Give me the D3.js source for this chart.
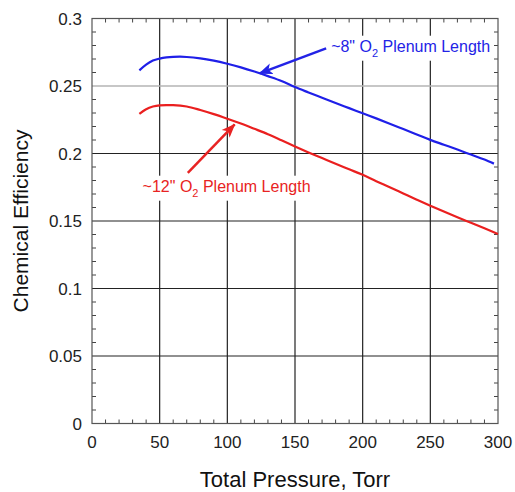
<!DOCTYPE html>
<html>
<head>
<meta charset="utf-8">
<script src="https://cdn.jsdelivr.net/npm/d3@7"></script>
<style>
  body { margin: 0; background: #fff; }
  svg { display: block; font-family: "Liberation Sans", Arial, sans-serif; }
</style>
</head>
<body>
<div id="chart"></div>
<script>
// values
var xTicks = [0, 50, 100, 150, 200, 250, 300];
var yTicks = [0, 0.05, 0.1, 0.15, 0.2, 0.25, 0.3];

var blueP = [35, 40, 45, 50, 55, 60, 65, 70, 80, 90, 100, 110, 120, 130, 140, 150,
  160, 170, 180, 190, 200, 210, 220, 230, 240, 250, 260, 270, 280, 290, 297];
var blueEff = [0.2616, 0.2658, 0.2688, 0.2703, 0.2712, 0.2716, 0.2717, 0.2715, 0.2705,
  0.2688, 0.2665, 0.2638, 0.2607, 0.2573, 0.2537, 0.2492, 0.2452, 0.2413, 0.2374,
  0.2336, 0.2298, 0.2260, 0.2221, 0.2181, 0.2141, 0.2101, 0.2065, 0.2029, 0.1992,
  0.1955, 0.1925];

var redP = [35, 40, 45, 50, 55, 60, 70, 80, 90, 100, 110, 120, 130, 140, 150,
  160, 170, 180, 190, 200, 210, 220, 230, 240, 250, 260, 270, 280, 290, 300];
var redEff = [0.2293, 0.2328, 0.2348, 0.2357, 0.2359, 0.2358, 0.2348, 0.2322, 0.2292,
  0.2258, 0.2222, 0.2183, 0.2143, 0.2098, 0.2052, 0.2008, 0.1966, 0.1924, 0.1883,
  0.1842, 0.1795, 0.1750, 0.1704, 0.1658, 0.1613, 0.1570, 0.1528, 0.1487, 0.1446,
  0.1404];

var labels = [
  { name: '~8" O', sub: '2', rest: ' Plenum Length', color: '#2323e6',
    at: [176.7, 0.2754], tail: [173, 0.2779], tip: [123.8, 0.2594] },
  { name: '~12" O', sub: '2', rest: ' Plenum Length', color: '#e82323',
    at: [37.4, 0.1717], tail: [70.8, 0.1856], tip: [105.4, 0.2215] }
];

var width = 515,
    height = 492,
    margin = { top: 18.5, right: 17, bottom: 68.5, left: 92 };

var svg = d3.select('#chart').append('svg')
  .attr('width', width)
  .attr('height', height);

var x = d3.scaleLinear().domain([0, 300]).range([margin.left, width - margin.right]);
var y = d3.scaleLinear().domain([0, 0.3]).range([height - margin.bottom, margin.top]);

var x0 = x.range()[0], x1 = x.range()[1],
    y0 = y.range()[0], y1 = y.range()[1];

// grid
svg.append('g').selectAll('line')
  .data(xTicks.slice(1, -1))
  .enter().append('line')
  .attr('x1', function(d) { return x(d); })
  .attr('x2', function(d) { return x(d); })
  .attr('y1', y0).attr('y2', y1)
  .attr('stroke', '#222').attr('stroke-width', 1.2);

svg.append('g').selectAll('line')
  .data(yTicks.slice(1, -1))
  .enter().append('line')
  .attr('x1', x0).attr('x2', x1)
  .attr('y1', function(d) { return y(d); })
  .attr('y2', function(d) { return y(d); })
  .attr('stroke', function(d) { return d === 0.25 ? '#b4b4b4' : '#222'; })
  .attr('stroke-width', function(d) { return d === 0.25 ? 1.6 : 1.2; });

// minor ticks, all four sides, pointing inward
var tk = 4;
var xMinor = d3.range(10, 300, 10).filter(function(d) { return d % 50 !== 0; });
var yMinor = d3.range(1, 30).map(function(d) { return d / 100; })
  .filter(function(d, i) { return (i + 1) % 5 !== 0; });

var ticks = svg.append('g').attr('stroke', '#444').attr('stroke-width', 1);
xMinor.forEach(function(d) {
  ticks.append('line').attr('x1', x(d)).attr('x2', x(d)).attr('y1', y0).attr('y2', y0 - tk);
  ticks.append('line').attr('x1', x(d)).attr('x2', x(d)).attr('y1', y1).attr('y2', y1 + tk);
});
yMinor.forEach(function(d) {
  ticks.append('line').attr('x1', x0).attr('x2', x0 + tk).attr('y1', y(d)).attr('y2', y(d));
  ticks.append('line').attr('x1', x1).attr('x2', x1 - tk).attr('y1', y(d)).attr('y2', y(d));
});

// frame
svg.append('rect')
  .attr('x', x0).attr('y', y1)
  .attr('width', x1 - x0).attr('height', y0 - y1)
  .attr('fill', 'none').attr('stroke', '#555').attr('stroke-width', 1.2);

// tick labels
svg.append('g').selectAll('text')
  .data(xTicks)
  .enter().append('text')
  .attr('x', function(d) { return x(d); })
  .attr('y', 448)
  .attr('text-anchor', 'middle')
  .attr('font-size', 17)
  .attr('fill', '#222')
  .text(function(d) { return d; });

svg.append('g').selectAll('text')
  .data(yTicks)
  .enter().append('text')
  .attr('x', 82)
  .attr('y', function(d) { return y(d) + 6; })
  .attr('text-anchor', 'end')
  .attr('font-size', 17)
  .attr('fill', '#222')
  .text(function(d) { return d; });

// axis titles
svg.append('text')
  .attr('x', (x0 + x1) / 2)
  .attr('y', 487)
  .attr('text-anchor', 'middle')
  .attr('font-size', 22)
  .attr('fill', '#111')
  .text('Total Pressure, Torr');

svg.append('text')
  .attr('transform', 'translate(28,' + ((y0 + y1) / 2) + ') rotate(-90)')
  .attr('text-anchor', 'middle')
  .attr('font-size', 21)
  .attr('fill', '#111')
  .text('Chemical Efficiency');

// curves
var line = d3.line()
  .x(function(d) { return x(d[0]); })
  .y(function(d) { return y(d[1]); })
  .curve(d3.curveMonotoneX);

svg.append('path')
  .datum(d3.zip(blueP, blueEff))
  .attr('d', line)
  .attr('fill', 'none').attr('stroke', '#1f1fe8').attr('stroke-width', 2.2);

svg.append('path')
  .datum(d3.zip(redP, redEff))
  .attr('d', line)
  .attr('fill', 'none').attr('stroke', '#ea1f1f').attr('stroke-width', 2.2);

// annotations
var defs = svg.append('defs');

labels.forEach(function(l, i) {
  defs.append('marker')
    .attr('id', 'head' + i)
    .attr('markerUnits', 'userSpaceOnUse')
    .attr('viewBox', '0 -6 14 12')
    .attr('refX', 13).attr('refY', 0)
    .attr('markerWidth', 14).attr('markerHeight', 12)
    .attr('orient', 'auto')
    .append('path')
    .attr('d', 'M0,-5.5L14,0L0,5.5L3.5,0Z')
    .attr('fill', l.color);

  var g = svg.append('g');
  var box = g.append('rect').attr('fill', '#fff');
  var t = g.append('text')
    .attr('x', x(l.at[0]))
    .attr('y', y(l.at[1]))
    .attr('font-size', 16)
    .attr('fill', l.color);
  t.append('tspan').text(l.name);
  t.append('tspan').attr('font-size', 11).attr('dy', 5).text(l.sub);
  t.append('tspan').attr('dy', -5).text(l.rest);

  var b = t.node().getBBox();
  box.attr('x', b.x - 2).attr('y', b.y - 2)
    .attr('width', b.width + 4).attr('height', b.height + 4);

  svg.append('line')
    .attr('x1', x(l.tail[0])).attr('y1', y(l.tail[1]))
    .attr('x2', x(l.tip[0])).attr('y2', y(l.tip[1]))
    .attr('stroke', l.color).attr('stroke-width', 2.5)
    .attr('marker-end', 'url(#head' + i + ')');
});
</script>
</body>
</html>
